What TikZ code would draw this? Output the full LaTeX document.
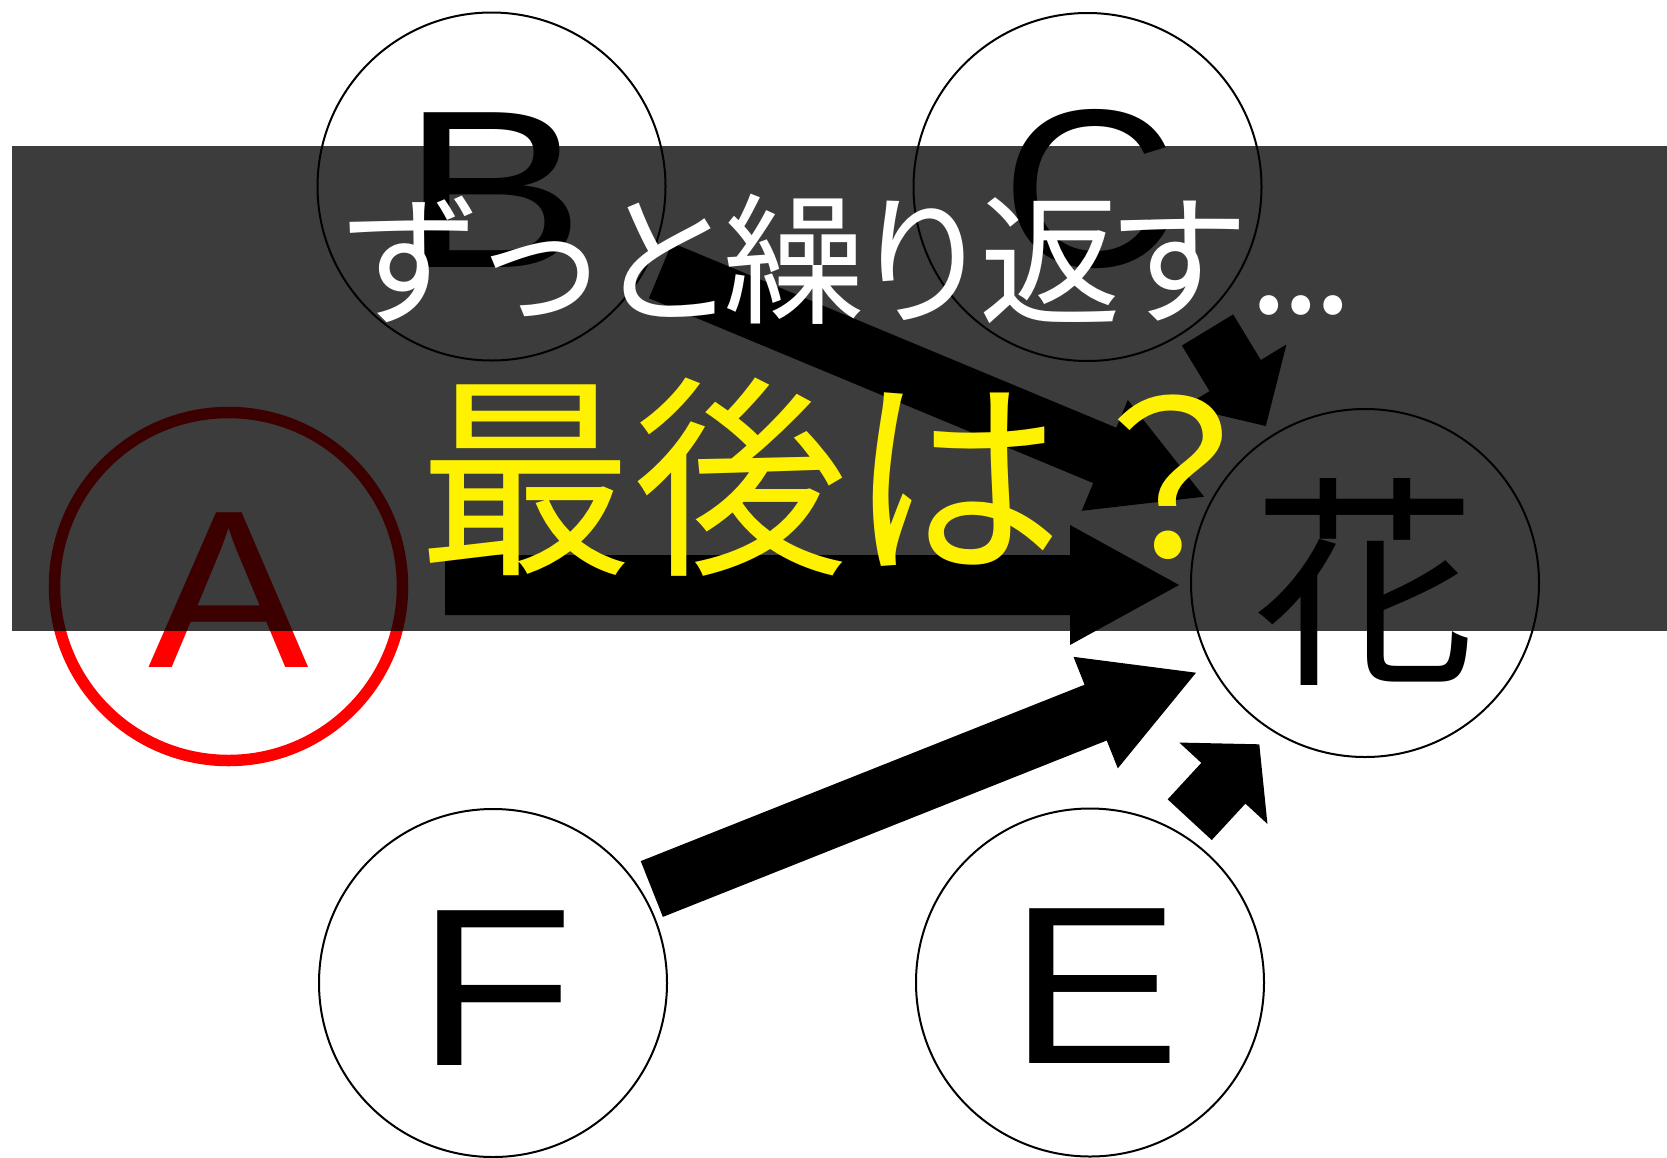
\documentclass[tikz,border=0pt]{standalone}
\usepackage{graphicx}
\usepackage{fontspec}
\setmainfont{Liberation Sans}
\newfontfamily\jp{Noto Sans CJK JP}
\newfontfamily\jpt[LetterSpace=-10]{Noto Sans CJK JP}
\newfontfamily\jpd[LetterSpace=-5]{Noto Sans CJK JP}
\usetikzlibrary{calc}
% block arrow: name, tail, tip, head length
\newcommand\blockarrow[4]{%
  \coordinate (#1h) at ($(#3)!#4!(#2)$);
  \fill[black] ($(#2)!30pt!90:(#3)$) -- ($(#1h)!30pt!-90:(#2)$) -- ($(#1h)!60pt!-90:(#2)$) -- (#3)
     -- ($(#1h)!60pt!90:(#2)$) -- ($(#1h)!30pt!90:(#2)$) -- ($(#2)!30pt!-90:(#3)$) -- cycle;}
\tikzset{
  ring/.style={circle, draw=black, line width=2pt, minimum size=348pt, inner sep=0pt},
  letter/.style={inner sep=0pt, anchor=base, font=\fontsize{225}{225}\selectfont},
}
\begin{document}
\begin{tikzpicture}[x=1pt,y=-1pt]
\useasboundingbox (0,0) rectangle (1667,1157);
% circles
\node[ring] (nb) at (491.5,186.5) {};
\node[ring] (nc) at (1087.5,187) {};
\node[ring, draw=red, line width=11.5pt] (na) at (228.5,586.5) {};
\node[ring] (nh) at (1365,583) {};
\node[ring] (nf) at (493,983) {};
\node[ring] (ne) at (1090,982.5) {};
% letters
\node[letter] (lb) at (493,267) {\scalebox{1.226}[1]{B}};
\node[letter] (lc) at (1089,266) {\scalebox{1.08}[1]{C}};
\node[letter, text=red] (la) at (228.5,667) {\scalebox{1.07}[1]{A}};
\node[letter] (le) at (1094.4,1063.6) {\scalebox{1.15}[1]{E}};
\node[letter] (lf) at (495.8,1065) {\scalebox{1.15}[1]{F}};
\node[inner sep=0pt, anchor=base, font=\jp\fontsize{225}{225}\selectfont] (lh) at (1365,667) {花};
% arrows
\coordinate (aAt) at (445,585);     \coordinate (aAp) at (1179,585);
\coordinate (aBt) at (660.5,270.5); \coordinate (aBp) at (1204,496.7);
\coordinate (aCt) at (1207.5,330);  \coordinate (aCp) at (1265.8,426);
\coordinate (aEt) at (1189.7,819.7);\coordinate (aEp) at (1259.3,744.3);
\coordinate (aFt) at (651.8,889);   \coordinate (aFp) at (1196,672.7);
\blockarrow{aA}{aAt}{aAp}{109pt}
\blockarrow{aB}{aBt}{aBp}{107.5pt}
\blockarrow{aC}{aCt}{aCp}{59pt}
\blockarrow{aE}{aEt}{aEp}{53pt}
\blockarrow{aF}{aFt}{aFp}{108pt}
% band
\fill[black, opacity=0.765] (12,146) rectangle (1667,631);
% texts
\node[anchor=base west, inner sep=0pt, text=white, font=\jpt\fontsize{142}{142}\selectfont] (t1) at (340,313) {ずっと繰り返す{\jpd ...}};
\node[anchor=base west, inner sep=0pt, text=yellow, font=\jp\fontsize{215}{215}\selectfont] (t2) at (418,558) {最後は？};
\end{tikzpicture}
\end{document}
